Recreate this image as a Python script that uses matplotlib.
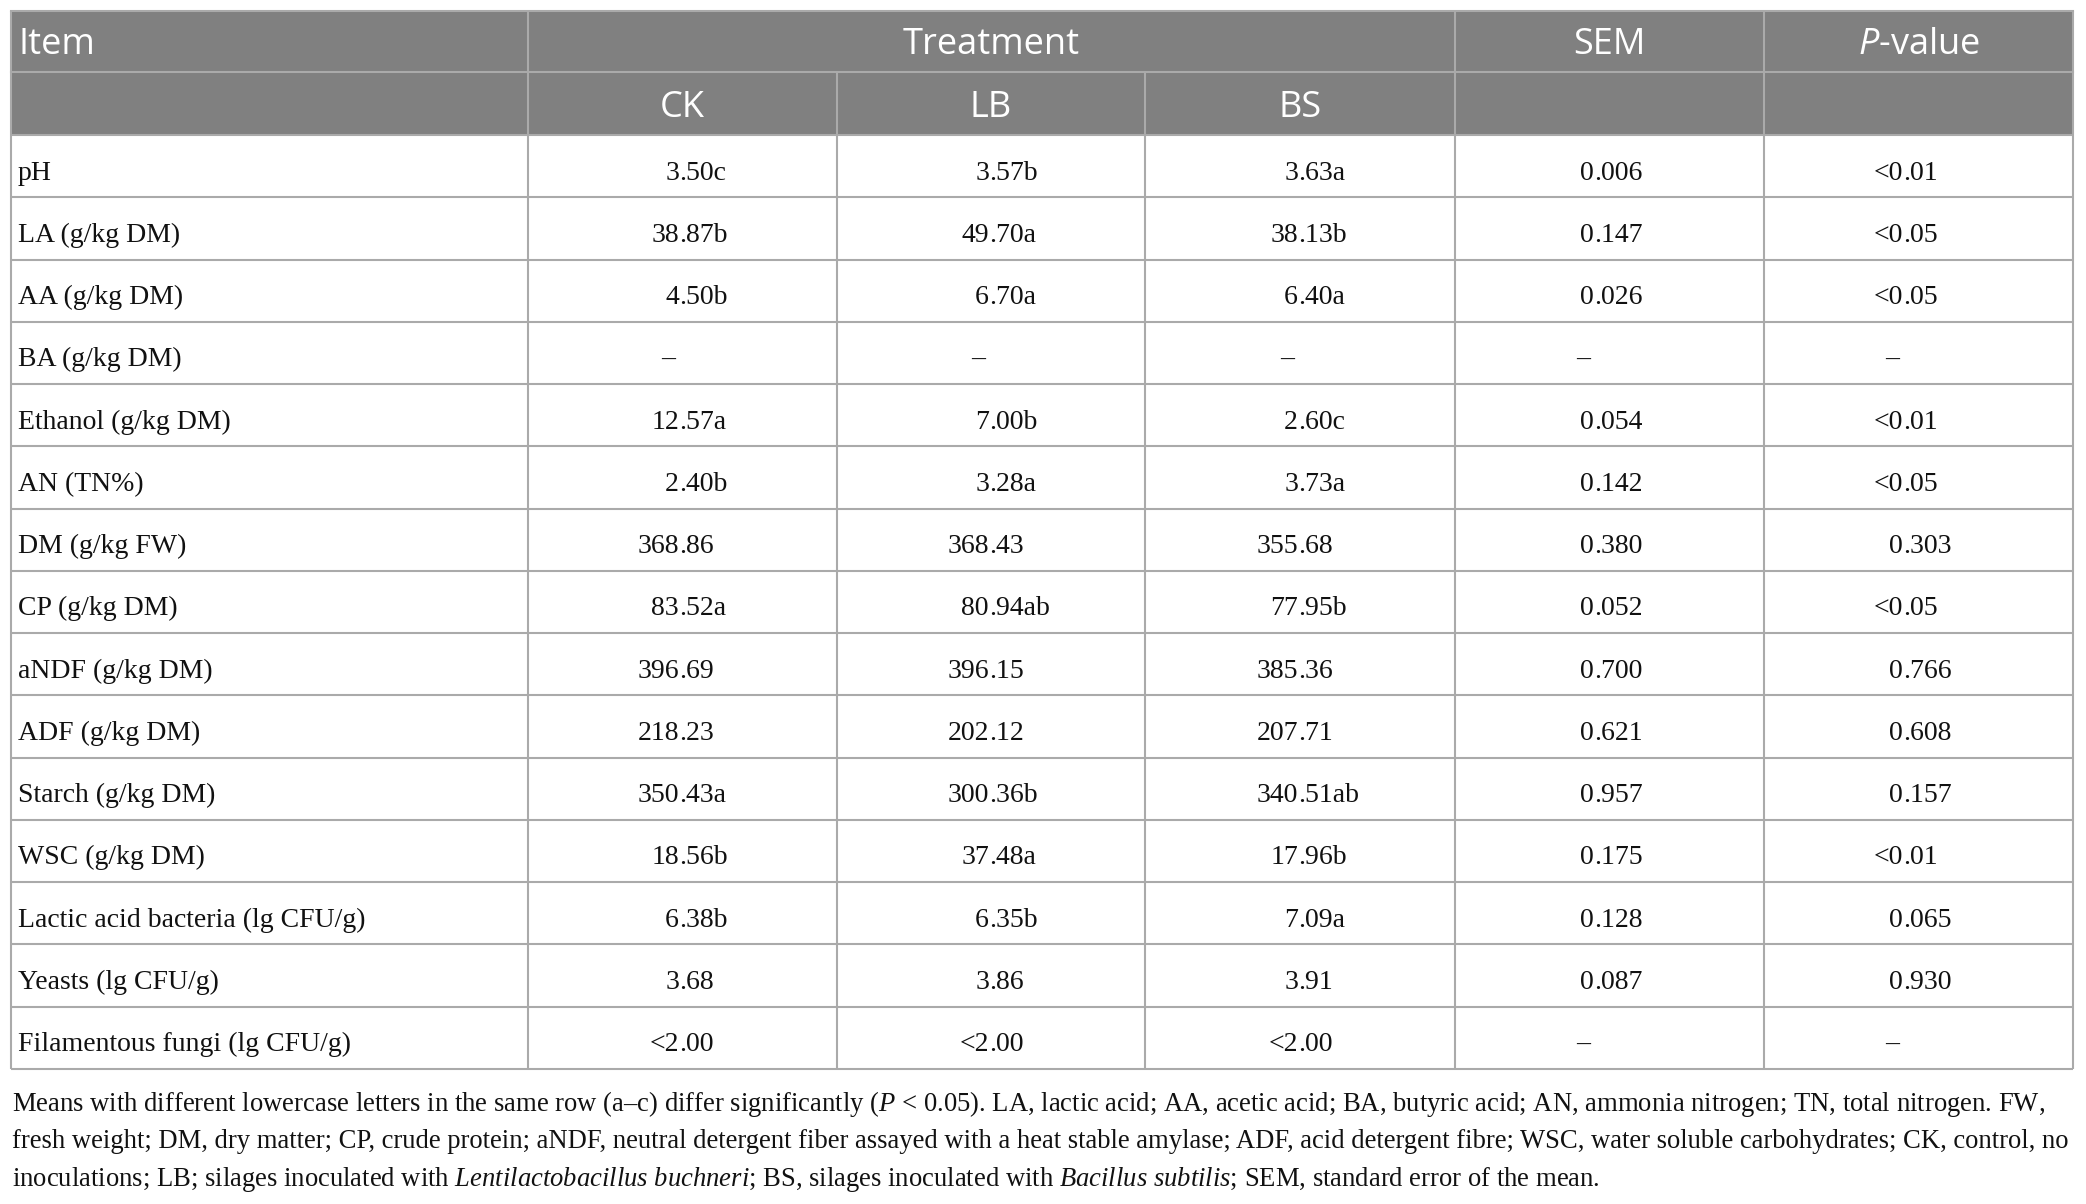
import matplotlib
matplotlib.use("Agg")
import matplotlib.pyplot as plt
from matplotlib.patches import Rectangle

plt.rcParams.update({
    "mathtext.fontset": "custom",
    "mathtext.it": "Liberation Serif:italic",
    "mathtext.rm": "Liberation Serif",
    "mathtext.sf": "Open Sans:italic",
})

items = ["pH", "LA (g/kg DM)", "AA (g/kg DM)", "BA (g/kg DM)", "Ethanol (g/kg DM)",
         "AN (TN%)", "DM (g/kg FW)", "CP (g/kg DM)", "aNDF (g/kg DM)", "ADF (g/kg DM)",
         "Starch (g/kg DM)", "WSC (g/kg DM)", "Lactic acid bacteria (lg CFU/g)",
         "Yeasts (lg CFU/g)", "Filamentous fungi (lg CFU/g)"]
ck = ["3.50c", "38.87b", "4.50b", "–", "12.57a", "2.40b", "368.86", "83.52a",
      "396.69", "218.23", "350.43a", "18.56b", "6.38b", "3.68", "<2.00"]
lb = ["3.57b", "49.70a", "6.70a", "–", "7.00b", "3.28a", "368.43", "80.94ab",
      "396.15", "202.12", "300.36b", "37.48a", "6.35b", "3.86", "<2.00"]
bs = ["3.63a", "38.13b", "6.40a", "–", "2.60c", "3.73a", "355.68", "77.95b",
      "385.36", "207.71", "340.51ab", "17.96b", "7.09a", "3.91", "<2.00"]
sem = ["0.006", "0.147", "0.026", "–", "0.054", "0.142", "0.380", "0.052",
       "0.700", "0.621", "0.957", "0.175", "0.128", "0.087", "–"]
pval = ["<0.01", "<0.05", "<0.05", "–", "<0.01", "<0.05", "0.303", "<0.05",
        "0.766", "0.608", "0.157", "<0.01", "0.065", "0.930", "–"]
treatments = ["CK", "LB", "BS"]

footnote = [
    "Means with different lowercase letters in the same row (a–c) differ significantly ($\\mathit{P}$ < 0.05). "
    "LA, lactic acid; AA, acetic acid; BA, butyric acid; AN, ammonia nitrogen; TN, total nitrogen. FW,",
    "fresh weight; DM, dry matter; CP, crude protein; aNDF, neutral detergent fiber assayed with a heat stable "
    "amylase; ADF, acid detergent fibre; WSC, water soluble carbohydrates; CK, control, no",
    "inoculations; LB; silages inoculated with $\\mathit{Lentilactobacillus}$ $\\mathit{buchneri}$; BS, silages "
    "inoculated with $\\mathit{Bacillus}$ $\\mathit{subtilis}$; SEM, standard error of the mean.",
]

W, H = 2086, 1204
fig = plt.figure(figsize=(W / 100, H / 100), dpi=100)
ax = fig.add_axes([0, 0, 1, 1])
ax.set_xlim(0, W)
ax.set_ylim(H, 0)
ax.axis("off")

# layout (pixels)
cols = [11, 528, 837, 1145, 1455, 1764, 2073]
top, mid, head_bot, bot = 11, 72, 135, 1069
row_h = (bot - head_bot) / len(items)
dec_off = [151, 152, 153, 139, 139]
line_c = "#aaaaaa"
lw = 1.5
serif = "Liberation Serif"
sans = "Open Sans"
fs = 20
hfs = 26

ax.add_patch(Rectangle((cols[0], top), cols[-1] - cols[0], head_bot - top,
                       facecolor="#808080", edgecolor="none", zorder=0))

# grid lines
for i in range(len(items) + 1):
    y = head_bot + i * row_h
    ax.plot([cols[0], cols[-1]], [y, y], color=line_c, lw=lw, solid_capstyle="butt")
ax.plot([cols[0], cols[-1]], [top, top], color=line_c, lw=lw)
ax.plot([cols[0], cols[-1]], [mid, mid], color=line_c, lw=lw)
for j, x in enumerate(cols):
    y0 = top if j in (0, 1, 4, 5, 6) else mid
    ax.plot([x, x], [y0, bot], color=line_c, lw=lw, solid_capstyle="butt")

# header
ax.text(18, 54, "Item", color="white", fontsize=hfs, family=sans, va="baseline")
ax.text((cols[1] + cols[4]) / 2, 54, "Treatment", color="white", fontsize=hfs,
        family=sans, ha="center", va="baseline")
ax.text((cols[4] + cols[5]) / 2, 54, "SEM", color="white", fontsize=hfs,
        family=sans, ha="center", va="baseline")
ax.text((cols[5] + cols[6]) / 2, 54, "$\\mathsf{P}$-value", color="white", fontsize=hfs,
        family=sans, ha="center", va="baseline")
for j, t in enumerate(treatments):
    ax.text((cols[j + 1] + cols[j + 2]) / 2, 117, t, color="white", fontsize=hfs,
            family=sans, ha="center", va="baseline")

# body, numbers lined up on the decimal point
columns = [ck, lb, bs, sem, pval]
for i, name in enumerate(items):
    yb = head_bot + i * row_h + 44.5
    ax.text(18, yb, name, fontsize=fs, family=serif, va="baseline", color="#111111")
    for j, vals in enumerate(columns):
        xd = cols[j + 1] + dec_off[j]
        v = vals[i]
        if "." in v:
            a, b = v.split(".", 1)
            ax.text(xd, yb, a, fontsize=fs, family=serif, ha="right", va="baseline", color="#111111")
            ax.text(xd, yb, "." + b, fontsize=fs, family=serif, ha="left", va="baseline", color="#111111")
        else:
            ax.text(xd - 4, yb, v, fontsize=fs, family=serif, ha="right", va="baseline", color="#111111")

# footnote
for k, line in enumerate(footnote):
    ax.text(12, 1111 + k * 37.5, line, fontsize=19.2, family=serif, va="baseline", color="#111111")

fig.savefig("out.png", dpi=100)
